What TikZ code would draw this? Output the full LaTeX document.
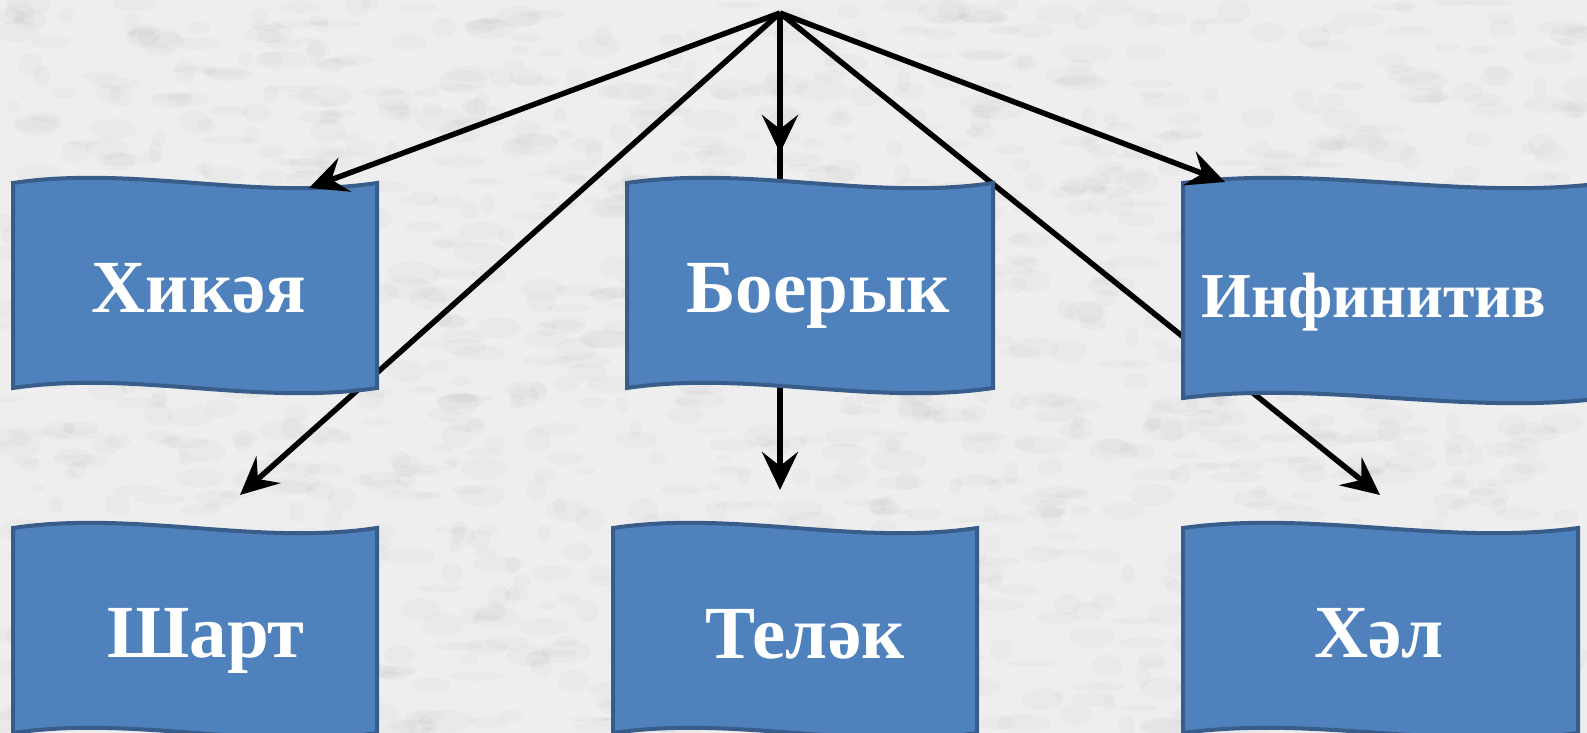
\documentclass[tikz,border=0pt]{standalone}
\usepackage{fontspec}
\setmainfont{Liberation Serif}
\usetikzlibrary{arrows.meta, positioning}
\definecolor{flagfill}{HTML}{4F81BD}
\definecolor{flagline}{HTML}{385D8A}
\definecolor{paper}{HTML}{EEEEEE}

\begin{document}
\begin{tikzpicture}[x=0.5pt, y=-0.5pt,
    flag/.style={fill=flagfill, draw=flagline, line width=2pt},
    lbl/.style={text=white, font=\bfseries\fontsize{37.5}{40}\selectfont, anchor=base, inner sep=0pt},
    arr/.style={line width=2.75pt, -{Stealth[length=19pt, width=18pt, inset=7pt]}}]

    \clip (0,0) rectangle (1587,733);
    \fill[paper] (0,0) rectangle (1587,733);
    % grey marble background
    \pgfmathsetseed{11}
    \foreach \i in {1,...,1400}
        \fill[black, opacity=0.018] ({rnd*1587},{rnd*733}) ellipse ({6+rnd*22} and {3+rnd*9});

    \coordinate (top) at (780,13);
    \coordinate (hikaya-in) at (309,188);
    \coordinate (boeryk-in) at (780,153);
    \coordinate (infinitiv-in) at (1225,182);
    \coordinate (shart-in) at (240,495);
    \coordinate (telak-in) at (780,490);
    \coordinate (hal-in) at (1380,495);

    % these run behind the flags
    \draw[arr] (top) -- (shart-in);
    \draw[arr] (top) -- (telak-in);
    \draw[arr] (top) -- (hal-in);

    % the six wave flags
    \foreach \l/\t/\r/\b in {13/183/377/388, 627/183/993/388, 1183/183/1605/398,
                             13/528/377/733, 613/528/977/733, 1183/528/1578/733}
        \draw[flag] (\l,\t) .. controls ({\l+(\r-\l)/3},{\t-18}) and ({\l+2*(\r-\l)/3},{\t+18}) .. (\r,\t)
            -- (\r,\b) .. controls ({\l+2*(\r-\l)/3},{\b+18}) and ({\l+(\r-\l)/3},{\b-18}) .. (\l,\b) -- cycle;

    \node[lbl] (hikaya) at (199,313) {Хикәя};
    \node[lbl] (boeryk) at (818,313) {Боерык};
    \node[lbl, font=\bfseries\fontsize{32}{36}\selectfont] (infinitiv) at (1374,317) {Инфинитив};
    \node[lbl] (shart) at (206,657) {Шарт};
    \node[lbl] (telak) at (805,658) {Теләк};
    \node[lbl] (hal) at (1379,657) {Хәл};

    \draw[arr] (top) -- (hikaya-in);
    \draw[arr] (top) -- (boeryk-in);
    \draw[arr] (top) -- (infinitiv-in);
\end{tikzpicture}
\end{document}
